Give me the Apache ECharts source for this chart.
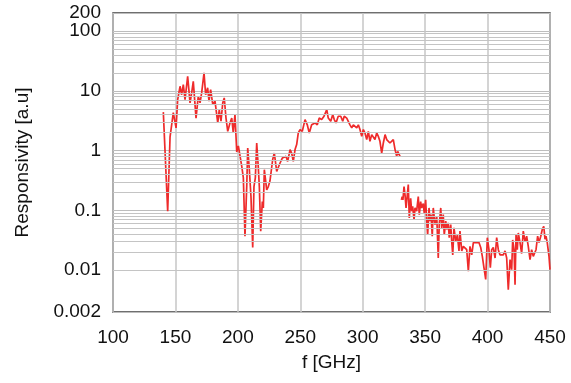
<!DOCTYPE html>
<html>
<head>
<meta charset="utf-8">
<script src="https://cdn.jsdelivr.net/npm/echarts@6/dist/echarts.min.js"></script>
<style>html,body{margin:0;padding:0;background:#fff}#c{width:571px;height:383px}</style>
</head>
<body>
<div id="c"></div>
<script>
// Segment below the gap (~140-330 GHz)
var freqLow = [140.3,143.8,145.7,148.3,150.5,151.8,153.7,155.0,156.3,157.7,159.8,161.7,163.0,164.3,166.5,168.3,169.7,171.0,172.9,174.2,175.8,176.9,178.2,179.9,181.7,183.9,185.1,186.5,187.9,189.1,190.5,191.9,193.7,195.1,196.3,197.7,199.1,200.4,201.7,203.1,204.4,205.7,207.1,207.9,209.2,210.5,211.9,212.9,214.0,215.1,216.4,217.2,218.3,219.6,220.4,221.2,223.1,224.4,225.7,227.9,229.2,231.1,232.4,233.8,235.6,237.2,238.6,239.9,241.8,243.1,244.4,245.8,247.1,248.4,249.8,251.6,253.8,255.6,257.2,259.1,261.8,263.6,265.2,267.1,269.0,271.2,272.4,274.4,276.0,277.2,278.6,280.4,282.4,284.0,285.2,287.2,288.4,289.8,291.2,292.5,293.8,295.2,296.5,297.8,299.2,300.5,301.8,303.2,304.5,305.8,307.2,308.5,309.8,311.2,312.5,313.8,315.2,316.5,317.9,319.2,320.5,321.8,323.2,324.5,325.9,327.2,328.0,329.1,329.9];
var respLow = [4.4,0.097,1.7,4.3,2.4,7.1,11.9,8.6,12.7,7.1,17.5,6.3,9.2,14.4,3.5,8.1,6.3,9.2,20,8.6,11.2,6.7,10.5,5.9,6.7,2.9,4.8,3.1,6.3,7.6,3.5,2.1,2.9,3.5,2.0,4.0,0.95,1.2,1.2,0.55,0.35,0.037,0.25,1.1,0.48,0.17,0.024,0.25,0.35,1.34,0.51,0.25,0.045,0.14,0.11,0.48,0.22,0.25,0.31,0.71,0.91,0.45,0.48,0.62,0.75,0.71,0.8,0.66,1.04,0.91,0.66,1.04,1.26,1.97,2.25,2.1,3.3,2.7,1.97,2.7,2.9,2.7,3.5,3.3,3.75,4.85,3.5,3.1,4.0,3.3,2.9,3.75,3.75,3.1,3.75,3.5,3.3,2.7,2.4,2.7,2.9,2.4,2.7,2.25,1.73,2.25,1.97,1.53,2.1,1.43,1.85,1.73,1.53,1.97,1.73,1.43,0.91,1.34,1.85,1.53,1.53,1.34,1.43,1.53,1.04,0.8,0.97,0.91,0.8];
// Segment above the gap (~331-450 GHz)
var freqHigh = [331.0,331.6,332.2,333.1,333.9,334.7,335.2,336.5,337.3,338.4,339.2,340.0,341.1,341.9,343.2,344.5,345.3,346.4,347.2,348.5,349.3,350.4,351.2,352.0,353.1,353.9,354.7,355.7,356.5,357.9,359.3,360.5,361.3,362.5,363.3,364.5,365.3,366.5,367.3,368.5,369.3,370.5,371.3,372.1,373.1,374.5,375.8,377.1,377.9,379.3,380.6,381.9,383.3,384.6,385.9,387.3,388.6,390.5,391.8,393.1,394.5,395.8,397.1,398.5,399.8,401.1,402.2,403.3,404.6,406.0,407.3,408.6,410.0,411.3,412.6,414.0,415.3,416.6,418.0,419.3,420.1,421.2,422.0,422.8,423.8,424.6,426.0,427.3,428.6,430.0,431.3,432.6,434.0,435.3,436.6,438.0,438.8,440.1,441.2,442.6,443.8,445.0,446.0,446.8,447.8,449.2,450.0];
var respHigh = [0.15,0.17,0.15,0.25,0.18,0.11,0.14,0.27,0.075,0.16,0.097,0.117,0.07,0.11,0.097,0.17,0.085,0.14,0.11,0.13,0.09,0.15,0.07,0.039,0.11,0.066,0.085,0.037,0.11,0.058,0.08,0.016,0.058,0.11,0.051,0.085,0.039,0.066,0.048,0.062,0.035,0.058,0.030,0.018,0.051,0.030,0.039,0.021,0.045,0.021,0.025,0.025,0.022,0.0096,0.025,0.018,0.029,0.029,0.027,0.029,0.024,0.017,0.011,0.007,0.035,0.022,0.011,0.022,0.024,0.016,0.035,0.022,0.018,0.019,0.018,0.021,0.016,0.0047,0.015,0.0102,0.032,0.022,0.0057,0.039,0.022,0.042,0.029,0.019,0.045,0.030,0.037,0.025,0.015,0.022,0.017,0.016,0.022,0.037,0.029,0.037,0.048,0.054,0.033,0.037,0.029,0.017,0.0102];
// Axis settings
var xTicks = [100,150,200,250,300,350,400,450];
var yTickLabels = [0.002,0.01,0.1,1,10,100];
var yTopLabel = [200];
var yMin = 0.002, yMax = 200;
var decades = [0.001,0.01,0.1,1,10];
var minorSteps = [2,3,4,5,6,7,8,9];

var minorLines = [];
decades.forEach(function(d){
  minorSteps.forEach(function(m){
    var v = parseFloat((d*m).toPrecision(3));
    if (v > yMin && v < 100) minorLines.push({yAxis: v});
  });
});

function zip(a,b){ return a.map(function(x,i){ return [x,b[i]]; }); }
function fmt(v){ return String(parseFloat(Number(v).toPrecision(3))); }

var chart = echarts.init(document.getElementById('c'), null, {renderer:'canvas'});
var font = 'Liberation Sans, Arial, sans-serif';
var labelStyle = {fontFamily:font,fontSize:19,color:'#111',margin:12,hideOverlap:false,formatter:fmt};
chart.setOption({
  animation:false,
  grid:{left:113,right:21,top:13,bottom:71,show:true,borderColor:'#404040',borderWidth:1.5,backgroundColor:'transparent'},
  xAxis:{
    type:'value', min:xTicks[0], max:xTicks[xTicks.length-1], interval:50,
    name:'f [GHz]', nameLocation:'middle', nameGap:41,
    nameTextStyle:{fontFamily:font,fontSize:19,color:'#111'},
    axisLine:{show:false}, axisTick:{show:false},
    axisLabel:{fontFamily:font,fontSize:19,color:'#111',margin:16},
    splitLine:{show:true,lineStyle:{color:'#c6c6c6',width:1.5}}
  },
  yAxis:[{
    type:'log', logBase:10, min:yMin, max:yMax, position:'left',
    name:'Responsivity [a.u]', nameLocation:'middle', nameGap:81,
    nameTextStyle:{fontFamily:font,fontSize:19,color:'#111'},
    axisLine:{show:false}, axisTick:{show:false},
    axisLabel:Object.assign({customValues:yTickLabels}, labelStyle),
    splitLine:{show:true,lineStyle:{color:'#bdbdbd',width:1}}
  },{
    type:'log', logBase:10, min:yMin, max:yMax, position:'left', offset:0,
    axisLine:{show:false}, axisTick:{show:false}, splitLine:{show:false},
    axisLabel:Object.assign({customValues:yTopLabel, padding:[6,0,0,0]}, labelStyle)
  }],
  series:[
    {type:'line', data:zip(freqLow,respLow), showSymbol:false, symbol:'none',
     lineStyle:{color:'#ee2b2b',width:1.7}, itemStyle:{color:'#ee2b2b'},
     markLine:{silent:true,symbol:['none','none'],label:{show:false},animation:false,
       lineStyle:{color:'#c4c4c4',width:1,type:'solid'},emphasis:{disabled:true},data:minorLines}},
    {type:'line', data:zip(freqHigh,respHigh), showSymbol:false, symbol:'none',
     lineStyle:{color:'#ee2b2b',width:1.7}, itemStyle:{color:'#ee2b2b'}}
  ]
});
</script>
</body>
</html>
